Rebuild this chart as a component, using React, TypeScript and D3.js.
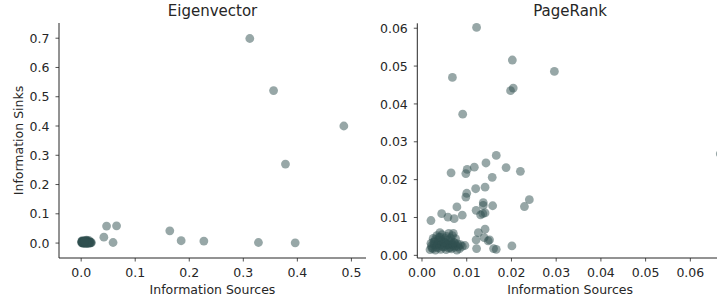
import React from "react";
import * as d3 from "d3";

// ---------- Eigenvector panel data ----------
const eigSources: number[] = [
  0.312, 0.356, 0.486, 0.378, 0.047, 0.0655, 0.042, 0.059, 0.164, 0.185, 0.227, 0.328, 0.396,
  // dense cluster near origin
  0.001, 0.002, 0.003, 0.004, 0.005, 0.006, 0.007, 0.008, 0.009, 0.010,
  0.011, 0.012, 0.013, 0.014, 0.015, 0.016, 0.017, 0.018, 0.019, 0.002,
  0.004, 0.006, 0.008, 0.010, 0.012, 0.014, 0.003, 0.005, 0.007, 0.009,
  0.011, 0.013, 0.001, 0.002, 0.004, 0.006, 0.008, 0.003, 0.005, 0.007,
  0.009, 0.011, 0.012, 0.010, 0.006, 0.004, 0.002, 0.001, 0.003, 0.005,
  0.008, 0.015, 0.017, 0.013, 0.009, 0.007, 0.011, 0.006,
];
const eigSinks: number[] = [
  0.699, 0.521, 0.400, 0.270, 0.058, 0.059, 0.020, 0.002, 0.042, 0.008, 0.007, 0.002, 0.001,
  0.001, 0.002, 0.000, 0.003, 0.001, 0.002, 0.004, 0.001, 0.003, 0.002,
  0.004, 0.001, 0.006, 0.003, 0.002, 0.004, 0.003, 0.001, 0.002, 0.005,
  0.006, 0.007, 0.005, 0.008, 0.004, 0.009, 0.004, 0.006, 0.002, 0.005,
  0.001, 0.002, 0.004, 0.008, 0.001, 0.000, 0.006, 0.007, 0.003, 0.000,
  0.007, 0.003, 0.000, 0.010, 0.004, 0.002, 0.003, 0.006, 0.001, 0.002,
  0.000, 0.000, 0.001, 0.000, 0.001, 0.008, 0.000, 0.005,
];

// ---------- PageRank panel data ----------
const prSources: number[] = [
  0.0122, 0.0202, 0.0068, 0.0296, 0.0198, 0.0204, 0.0091, 0.0667,
  0.0166, 0.0143, 0.0117, 0.0101, 0.0098, 0.0065, 0.0188, 0.0220, 0.0157,
  0.0120, 0.0141, 0.0100, 0.0098, 0.0240, 0.0229, 0.0078, 0.0137, 0.0137,
  0.0158, 0.0121, 0.0131, 0.0141, 0.0136, 0.0044, 0.0058, 0.0072, 0.0090,
  0.0020, 0.0141, 0.0126, 0.0121, 0.0139, 0.0151, 0.0148, 0.0122, 0.0160,
  0.0166, 0.0201, 0.0096,
  // dense cluster
  0.0018, 0.0024, 0.0030, 0.0036, 0.0042, 0.0048, 0.0054, 0.0060, 0.0066,
  0.0072, 0.0078, 0.0084, 0.0090, 0.0021, 0.0033, 0.0045, 0.0057, 0.0069,
  0.0081, 0.0020, 0.0028, 0.0035, 0.0043, 0.0050, 0.0058, 0.0065, 0.0073,
  0.0080, 0.0030, 0.0038, 0.0045, 0.0052, 0.0060, 0.0068, 0.0075, 0.0040,
  0.0055, 0.0064, 0.0025, 0.0047, 0.0062, 0.0086, 0.0033, 0.0070,
  0.0022, 0.0027, 0.0032, 0.0039, 0.0044, 0.0051, 0.0056, 0.0063, 0.0068,
  0.0076, 0.0026, 0.0037, 0.0049, 0.0059, 0.0071, 0.0041,
];
const prSinks: number[] = [
  0.0602, 0.0516, 0.0470, 0.0486, 0.0435, 0.0442, 0.0373, 0.0268,
  0.0264, 0.0244, 0.0233, 0.0227, 0.0216, 0.0218, 0.0232, 0.0222, 0.0206,
  0.0176, 0.0180, 0.0164, 0.0154, 0.0147, 0.0129, 0.0128, 0.0139, 0.0132,
  0.0131, 0.0119, 0.0107, 0.0112, 0.0110, 0.0110, 0.0101, 0.0097, 0.0106,
  0.0092, 0.0069, 0.0060, 0.0041, 0.0047, 0.0041, 0.0038, 0.0018, 0.0018,
  0.0016, 0.0025, 0.0026,
  0.0015, 0.0018, 0.0014, 0.0020, 0.0016, 0.0022, 0.0015, 0.0019, 0.0017,
  0.0021, 0.0014, 0.0018, 0.0024, 0.0025, 0.0027, 0.0024, 0.0028, 0.0026,
  0.0023, 0.0032, 0.0036, 0.0030, 0.0038, 0.0034, 0.0031, 0.0037, 0.0033,
  0.0030, 0.0042, 0.0048, 0.0055, 0.0045, 0.0058, 0.0052, 0.0044, 0.0060,
  0.0050, 0.0046, 0.0045, 0.0041, 0.0027, 0.0028, 0.0052, 0.0058,
  0.0020, 0.0028, 0.0022, 0.0026, 0.0030, 0.0024, 0.0029, 0.0021, 0.0030,
  0.0025, 0.0035, 0.0040, 0.0035, 0.0040, 0.0034, 0.0048,
];

const eigXTicks = [0, 0.1, 0.2, 0.3, 0.4, 0.5];
const eigYTicks = [0, 0.1, 0.2, 0.3, 0.4, 0.5, 0.6, 0.7];
const prXTicks = [0, 0.01, 0.02, 0.03, 0.04, 0.05, 0.06];
const prYTicks = [0, 0.01, 0.02, 0.03, 0.04, 0.05, 0.06];

const FONT = "DejaVu Sans, sans-serif";
const TXT = "#262626";
const DOT = "#2f4f4f";

type PanelProps = {
  title: string;
  xs: number[];
  ys: number[];
  xDomain: [number, number];
  yDomain: [number, number];
  xRange: [number, number];
  yRange: [number, number];
  xTicks: number[];
  yTicks: number[];
  fmt: string;
  yLabel?: string;
};

function Panel(p: PanelProps) {
  const x = d3.scaleLinear().domain(p.xDomain).range(p.xRange);
  const y = d3.scaleLinear().domain(p.yDomain).range(p.yRange);
  const f = d3.format(p.fmt);
  const [x0, x1] = p.xRange;
  const [yb, yt] = p.yRange;
  const cx = (x0 + x1) / 2;
  return (
    <g>
      <text x={cx} y={16} textAnchor="middle" fontSize={15} fontFamily={FONT} fill={TXT}>
        {p.title}
      </text>
      <g>
        {p.xs.map((v, i) => (
          <circle key={i} cx={x(v)} cy={y(p.ys[i])} r={4.4} fill={DOT} fillOpacity={0.5} />
        ))}
      </g>
      <line x1={x0} x2={x1} y1={yb} y2={yb} stroke="#262626" strokeWidth={1} />
      <line x1={x0} x2={x0} y1={yb} y2={yt} stroke="#262626" strokeWidth={1} />
      {p.xTicks.map((t) => (
        <g key={"x" + t}>
          <line x1={x(t)} x2={x(t)} y1={yb} y2={yb + 3.5} stroke="#262626" strokeWidth={0.8} />
          <text x={x(t)} y={277} textAnchor="middle" fontSize={12.5} fontFamily={FONT} fill={TXT}>
            {f(t)}
          </text>
        </g>
      ))}
      {p.yTicks.map((t) => (
        <g key={"y" + t}>
          <line x1={x0 - 3.5} x2={x0} y1={y(t)} y2={y(t)} stroke="#262626" strokeWidth={0.8} />
          <text x={x0 - 9.5} y={y(t) + 4.6} textAnchor="end" fontSize={12.5} fontFamily={FONT} fill={TXT}>
            {f(t)}
          </text>
        </g>
      ))}
      <text x={cx} y={294} textAnchor="middle" fontSize={12.5} fontFamily={FONT} fill={TXT}>
        Information Sources
      </text>
      {p.yLabel && (
        <text
          transform={`translate(22.5,${(yb + yt) / 2}) rotate(-90)`}
          textAnchor="middle"
          fontSize={12.5}
          fontFamily={FONT}
          fill={TXT}
        >
          {p.yLabel}
        </text>
      )}
    </g>
  );
}

export default function App() {
  return (
    <svg
      width={717}
      height={305}
      style={{ position: "absolute", left: 0, top: 0, background: "#fff", overflow: "hidden" }}
    >
      <rect width={717} height={305} fill="#fff" />
      <Panel
        title="Eigenvector"
        xs={eigSources}
        ys={eigSinks}
        xDomain={[-0.041, 0.527]}
        yDomain={[-0.051, 0.752]}
        xRange={[59, 366]}
        yRange={[258, 23]}
        xTicks={eigXTicks}
        yTicks={eigYTicks}
        fmt=".1f"
        yLabel="Information Sinks"
      />
      <Panel
        title="PageRank"
        xs={prSources}
        ys={prSinks}
        xDomain={[-0.00105, 0.0673]}
        yDomain={[-0.0007, 0.0613]}
        xRange={[417.3, 723]}
        yRange={[258, 23.3]}
        xTicks={prXTicks}
        yTicks={prYTicks}
        fmt=".2f"
      />
    </svg>
  );
}
